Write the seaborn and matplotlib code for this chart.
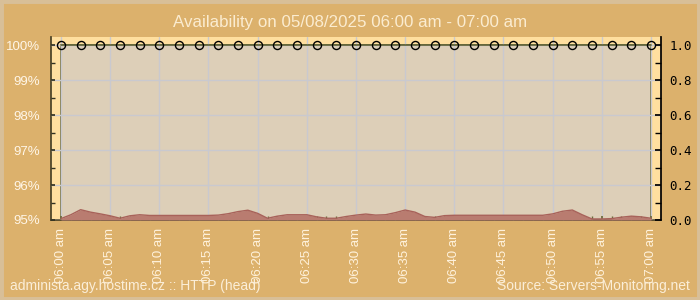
import numpy as np
import pandas as pd
import matplotlib
matplotlib.use("Agg")
import matplotlib.pyplot as plt
from matplotlib.patches import Rectangle
import seaborn as sns

# ---- data ----
avail_minutes = list(range(0, 61, 2))
availability = [100.0] * len(avail_minutes)

resp_minutes = list(range(0, 61))
response = [0.008, 0.03, 0.059, 0.045, 0.035, 0.024, 0.01, 0.024, 0.03, 0.026,
            0.026, 0.026, 0.026, 0.026, 0.026, 0.026, 0.028, 0.036, 0.048, 0.056,
            0.038, 0.01, 0.022, 0.03, 0.03, 0.03, 0.018, 0.01, 0.01, 0.02,
            0.028, 0.034, 0.028, 0.03, 0.042, 0.057, 0.045, 0.02, 0.015, 0.025,
            0.027, 0.027, 0.027, 0.027, 0.027, 0.027, 0.027, 0.027, 0.027, 0.027,
            0.035, 0.05, 0.057, 0.03, 0.006, 0.006, 0.008, 0.016, 0.022, 0.018, 0.01]

tick_minutes = list(range(0, 61, 5))
tick_labels = ["06:00 am", "06:05 am", "06:10 am", "06:15 am", "06:20 am", "06:25 am",
               "06:30 am", "06:35 am", "06:40 am", "06:45 am", "06:50 am", "06:55 am",
               "07:00 am"]
left_ticks = [95, 96, 97, 98, 99, 100]
left_labels = ["95%", "96%", "97%", "98%", "99%", "100%"]
right_ticks = [0.0, 0.2, 0.4, 0.6, 0.8, 1.0]
title = "Availability on 05/08/2025 06:00 am - 07:00 am"
footer_left = "administa.agy.hostime.cz :: HTTP (head)"
footer_right = "Source: Servers-Monitoring.net"

df_av = pd.DataFrame({"minute": avail_minutes, "availability": availability})
df_rt = pd.DataFrame({"minute": resp_minutes, "response": response})

sns.set_theme(style="white")
plt.rcParams["font.family"] = ["Liberation Sans", "DejaVu Sans"]

fig = plt.figure(figsize=(7, 3), dpi=100, facecolor="#dcb16c")
fig.patches.append(Rectangle((0, 0), 1, 1, transform=fig.transFigure, fill=False,
                             edgecolor="#d8bf98", linewidth=5, zorder=0))

ax = fig.add_axes([51 / 700, 1 - 220 / 300, 610 / 700, 183 / 300])
ax.set_facecolor("#ffdf9f")

span = resp_minutes[-1] - resp_minutes[0]
xm = span * 10 / 590
ax.set_xlim(resp_minutes[0] - xm, resp_minutes[-1] + xm)
ax.set_ylim(95, 100 + 5 * 8 / 174)

# inner plot background
ax.add_patch(Rectangle((resp_minutes[0], 95), span, 5, facecolor="#ddcfb8",
                       edgecolor="#6b6a3c", linewidth=1.2, zorder=0.5))

ax.set_xticks(tick_minutes)
ax.set_xticks(resp_minutes, minor=True)
ax.set_xticklabels(tick_labels, rotation=90, color="#fff2dc", fontsize=9.5)
ax.set_yticks(left_ticks)
ax.set_yticks(np.arange(95, 100.01, 0.5), minor=True)
ax.set_yticklabels(left_labels, color="#fff6e8", fontsize=9.5)
ax.grid(True, which="major", color="#c9c9cf", linewidth=1, zorder=0.6)
ax.set_axisbelow(False)
ax.tick_params(axis="x", which="both", direction="in", length=3, color="#6b6a3c",
               bottom=True, pad=6)
ax.tick_params(axis="y", which="both", direction="in", length=3, color="#333322",
               left=True, pad=8)
ax.spines["top"].set_visible(False)
ax.spines["left"].set_color("#4a4226")
ax.spines["bottom"].set_color("#4a4226")
ax.spines["right"].set_visible(False)

ax2 = ax.twinx()
ax2.set_ylim(0, 1 + 8 / 174)
sns.lineplot(data=df_rt, x="minute", y="response", ax=ax2, color="#a8625a",
             linewidth=1.0, zorder=3)
ax2.fill_between(df_rt["minute"], 0, df_rt["response"], color="#b97c70",
                 alpha=1.0, zorder=2, linewidth=0)
ax2.set_yticks(right_ticks)
ax2.set_yticks(np.arange(0, 1.01, 0.1), minor=True)
ax2.set_yticklabels([f"{v:.1f}" for v in right_ticks], fontsize=9,
                    family="DejaVu Sans Mono", color="black")
ax2.tick_params(axis="y", which="both", direction="in", length=4, color="black",
                right=True, pad=6)
ax2.spines["right"].set_color("black")
ax2.spines["top"].set_visible(False)
ax2.spines["left"].set_visible(False)
ax2.spines["bottom"].set_visible(False)
ax2.set_ylabel("")
ax2.grid(False)

# availability on top
ax3 = ax.twinx()
ax3.set_ylim(ax.get_ylim())
ax3.set_yticks([])
for s in ax3.spines.values():
    s.set_visible(False)
sns.lineplot(data=df_av, x="minute", y="availability", ax=ax3, color="#5e6032",
             linewidth=1.2, marker="o", markersize=5.8, markerfacecolor="none",
             markeredgecolor="black", markeredgewidth=1.0, zorder=4)
ax3.set_xlabel("")
ax3.set_ylabel("")
ax.set_xlabel("")
ax.set_ylabel("")
ax3.set_xlim(ax.get_xlim())

fig.text(0.5, 1 - 22 / 300, title, ha="center", va="center", fontsize=12.2,
         color="#fbecd0")
fig.text(10 / 700, 1 - 286 / 300, footer_left, ha="left", va="center",
         fontsize=10, color="#fbeed8")
fig.text(690 / 700, 1 - 286 / 300, footer_right, ha="right", va="center",
         fontsize=10, color="#fbeed8")

fig.savefig("out.png", dpi=100, facecolor=fig.get_facecolor())
